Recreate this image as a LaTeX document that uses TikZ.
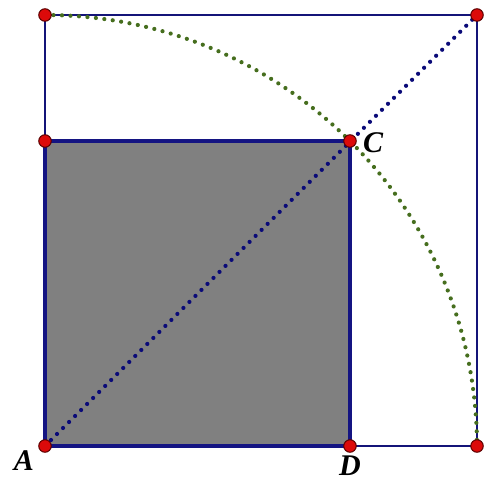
\documentclass[tikz,border=0pt]{standalone}
\usepackage{fontspec}
\setmainfont{Liberation Serif}
\begin{document}
\begin{tikzpicture}[x=1pt,y=-1pt,
  thinline/.style={draw={rgb,255:red,20;green,20;blue,120},line width=1.2pt},
  thickline/.style={draw={rgb,255:red,20;green,20;blue,130},line width=4pt},
  dotline/.style={draw={rgb,255:red,10;green,10;blue,120},line width=4.2pt,line cap=round,dash pattern=on 0pt off 8.5pt},
  arcline/.style={draw={rgb,255:red,70;green,110;blue,30},line width=4.2pt,line cap=round,dash pattern=on 0pt off 8.5pt},
  pt/.style={circle,fill={rgb,255:red,220;green,10;blue,10},draw={rgb,255:red,90;green,0;blue,0},line width=1pt,inner sep=0pt,minimum size=12.5pt},
  lbl/.style={font=\fontsize{30}{31}\selectfont\bfseries\itshape}]
\useasboundingbox (0,0) rectangle (491,500);
\coordinate (A) at (45,446);
\coordinate (D) at (350,446);
\coordinate (C) at (350,141);
\coordinate (E) at (45,141);
\coordinate (F) at (45,15);
\coordinate (G) at (477,15);
\coordinate (H) at (477,446);
\fill[gray] (A) rectangle (C);
\draw[thinline] (E) -- (F) -- (G) -- (H) -- (D);
\draw[thickline] (A) -- (D) -- (C) -- (E) -- cycle;
\draw[dotline] (A) -- (G);
\draw[arcline] (F) arc[start angle=-90,end angle=0,radius=432];
\node[pt] (pA) at (A) {};
\node[pt] (pD) at (D) {};
\node[pt] (pC) at (C) {};
\node[pt] (pE) at (E) {};
\node[pt] (pF) at (F) {};
\node[pt] (pG) at (G) {};
\node[pt] (pH) at (H) {};
\node[lbl] (lA) at (24,461) {A};
\node[lbl] (lD) at (350,466) {D};
\node[lbl] (lC) at (373,143) {C};
\end{tikzpicture}
\end{document}
